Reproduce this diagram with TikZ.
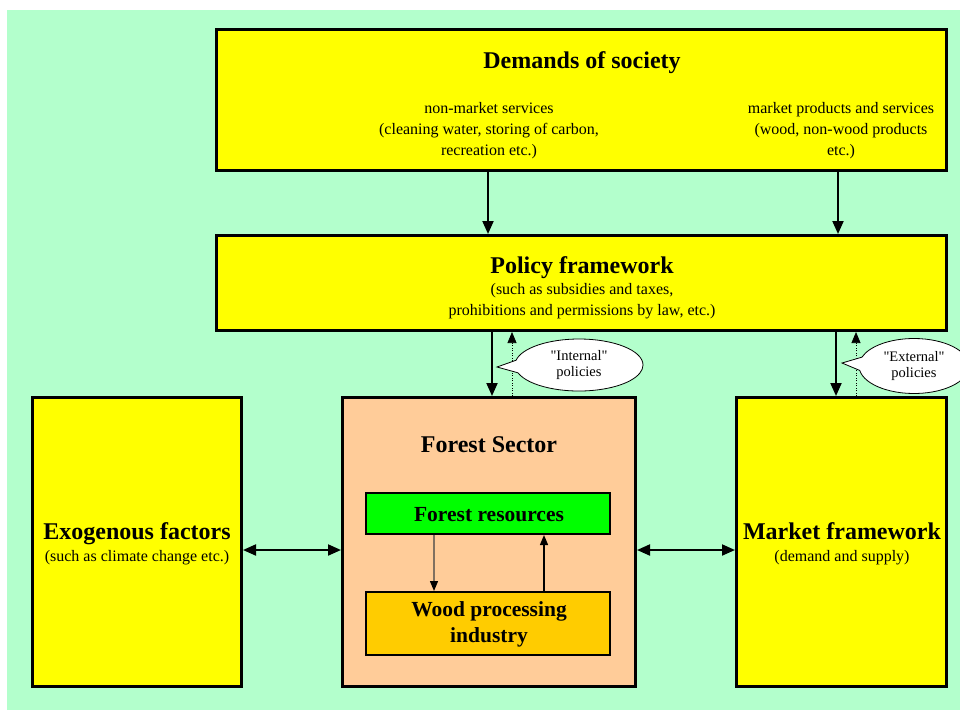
\documentclass[tikz,border=0pt]{standalone}
\usepackage{fontspec}
\setmainfont{Liberation Serif}
\newfontfamily\straightquotes[Ligatures=TeXOff]{Liberation Serif}
\usetikzlibrary{arrows.meta,shapes.callouts}
\definecolor{bggreen}{RGB}{179,255,204}
\definecolor{boxyellow}{RGB}{255,255,0}
\definecolor{sectorpeach}{RGB}{255,204,153}
\definecolor{resgreen}{RGB}{0,255,0}
\definecolor{indorange}{RGB}{255,204,0}
\definecolor{flowbrown}{RGB}{128,112,96}

\begin{document}
\begin{tikzpicture}[x=1pt,y=-1pt,
  panel/.style={draw=black,line width=3pt,inner sep=0pt},
  subpanel/.style={draw=black,line width=2pt,inner sep=0pt},
  title/.style={font=\fontsize{24}{28}\selectfont\bfseries,anchor=base,inner sep=0pt},
  subtitle/.style={font=\fontsize{21.5}{26}\selectfont\bfseries,anchor=base,inner sep=0pt},
  note/.style={font=\fontsize{16}{21}\selectfont,anchor=base,inner sep=0pt},
  bubble/.style={ellipse callout,draw=black,fill=white,line width=0.8pt,inner sep=0pt,
    callout pointer arc=28,align=center,font=\straightquotes\fontsize{14.5}{16.5}\selectfont},
  flow/.style={line width=2pt,-{Triangle[length=13pt,width=11pt]}},
  feedback/.style={line width=0.7pt,dash pattern=on 1pt off 1.5pt,-{Triangle[length=11pt,width=9pt]}},
  twoway/.style={line width=2pt,{Triangle[length=13pt,width=11pt]}-{Triangle[length=13pt,width=11pt]}},
  cycle/.style={line width=1.3pt,-{Triangle[length=10pt,width=8pt,color=black]}}
]
% page and backdrop
\useasboundingbox (0,0) rectangle (960,710);
\fill[white] (0,0) rectangle (960,710);
\fill[bggreen] (7,10) rectangle (960,710);

% main boxes
\node[panel,fill=boxyellow,minimum width=730pt,minimum height=141pt] (dem) at (581.5,100) {};
\node[panel,fill=boxyellow,minimum width=730pt,minimum height=95pt] (pol) at (581.5,283) {};
\node[panel,fill=boxyellow,minimum width=209pt,minimum height=289pt] (exo) at (137,542) {};
\node[panel,fill=sectorpeach,minimum width=293pt,minimum height=289pt] (sec) at (489,542) {};
\node[panel,fill=boxyellow,minimum width=210pt,minimum height=289pt] (mkt) at (841.5,542) {};
\node[subpanel,fill=resgreen,minimum width=244pt,minimum height=41pt] (res) at (488,513.5) {};
\node[subpanel,fill=indorange,minimum width=244pt,minimum height=63pt] (ind) at (488,623.5) {};

% texts
\node[title] (demT) at (582,68) {Demands of society};
\node[note] (demL1) at (489,113) {non-market services};
\node[note] (demL2) at (489,134) {(cleaning water, storing of carbon,};
\node[note] (demL3) at (489,155) {recreation etc.)};
\node[note] (demR1) at (841,113) {market products and services};
\node[note] (demR2) at (841,134) {(wood, non-wood products};
\node[note] (demR3) at (841,155) {etc.)};

\node[title] (polT) at (582,273) {Policy framework};
\node[note] (polL1) at (582,294) {(such as subsidies and taxes,};
\node[note] (polL2) at (582,315) {prohibitions and permissions by law, etc.)};

\node[title] (secT) at (489,452) {Forest Sector};
\node[subtitle] (resT) at (489,521) {Forest resources};
\node[subtitle] (indT1) at (489,616) {Wood processing};
\node[subtitle] (indT2) at (489,642) {industry};

\node[title] (exoT) at (137,539) {Exogenous factors};
\node[note] (exoS) at (137,561) {(such as climate change etc.)};
\node[title] (mktT) at (842,539) {Market framework};
\node[note] (mktS) at (842,561) {(demand and supply)};

% anchor columns for the vertical connectors
\coordinate (c1) at (488,0);
\coordinate (c2) at (838,0);
\coordinate (c3) at (492,0);
\coordinate (c4) at (512,0);
\coordinate (c5) at (836,0);
\coordinate (c6) at (856,0);
\coordinate (c7) at (434,0);
\coordinate (c8) at (544,0);
\coordinate (row) at (0,550);

% demands feed the policy framework
\draw[flow] (c1 |- dem.south) -- (c1 |- pol.north);
\draw[flow] (c2 |- dem.south) -- (c2 |- pol.north);

% policies down, feedback up
\draw[flow] (c3 |- pol.south) -- (c3 |- sec.north);
\draw[feedback] (c4 |- sec.north) -- (c4 |- pol.south);
\draw[flow] (c5 |- pol.south) -- (c5 |- mkt.north);
\draw[feedback] (c6 |- mkt.north) -- (c6 |- pol.south);

% two-way links
\draw[twoway] (exo.east |- row) -- (sec.west |- row);
\draw[twoway] (sec.east |- row) -- (mkt.west |- row);

% resource cycle
\draw[cycle,draw=flowbrown] (c7 |- res.south) -- (c7 |- ind.north);
\draw[cycle] (c8 |- ind.north) -- (c8 |- res.south);

% callouts
\coordinate (ptI) at (497,367);
\coordinate (ptE) at (842,363);
\node[bubble,minimum width=128pt,minimum height=52pt,callout absolute pointer={(ptI)}] (cbI) at (579,365) {"Internal"\\policies};
\node[bubble,minimum width=110pt,minimum height=55pt,callout absolute pointer={(ptE)}] (cbE) at (914,366) {"External"\\policies};
\end{tikzpicture}
\end{document}
